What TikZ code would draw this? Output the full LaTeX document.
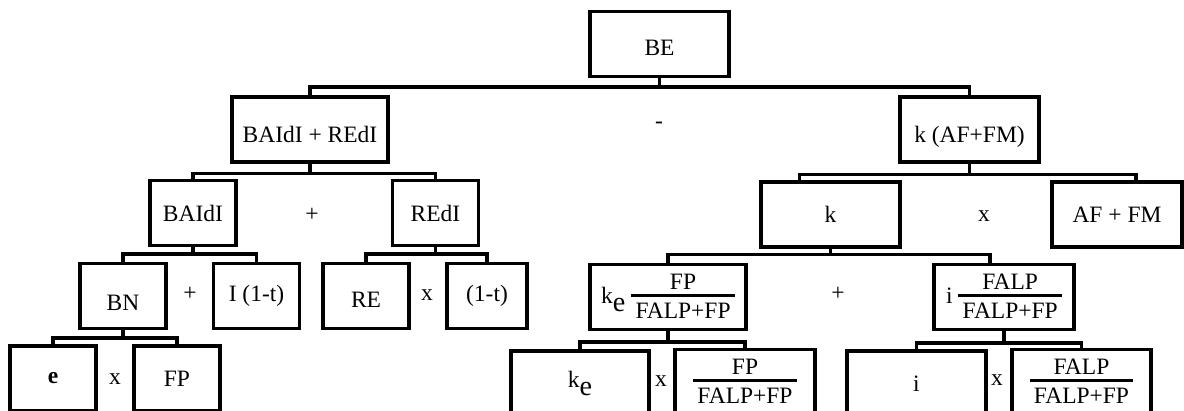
\documentclass[tikz,border=0pt]{standalone}
\usepackage{fontspec}
\setmainfont{Liberation Serif}

\newlength\pxu
\setlength\pxu{0.025cm}
\setlength\arrayrulewidth{1.9pt}
\newcommand\fr[2]{\begin{tabular}[c]{@{\hspace{3pt}}c@{\hspace{3pt}}}
    #1\\[-2.5pt]\hline\rule{0pt}{15.5pt}#2\\[-2pt]\end{tabular}}
\newcommand\ke{k\raisebox{-0.35em}{\fontsize{20}{20}\selectfont e}}

\begin{document}
\begin{tikzpicture}[
    x=0.025cm, y=-0.025cm,
    every node/.style={font=\fontsize{16.7}{20}\selectfont},
    box/.style={draw, line width=2.2pt, inner sep=0pt,
        minimum width=#1*\pxu, minimum height=65*\pxu},
    low/.style={text height=#1, text depth=0pt},
    wire/.style={line width=2.2pt}
]
\useasboundingbox (0,0) rectangle (1184,411);
\clip (0,0) rectangle (1184,411);

% Top
\node[box=139, low=17pt] (be) at (659.5,44) {BE};

% Level 1
\node[box=156, low=18pt] (sum) at (310,129.5) {BAIdI + REdI};
\node (minus) at (659,125) {-};
\node[box=139, low=18pt] (kaffm) at (969.5,129.5) {k (AF+FM)};

% Level 2
\node[box=86] (baidi) at (193,213) {BAIdI};
\node (plus1) at (312,215) {+};
\node[box=86] (redi) at (435.5,213) {REdI};
\node[box=139] (k) at (830.5,214.5) {k};
\node (times1) at (984,216) {x};
\node[box=130] (affm) at (1117,214.5) {AF + FM};

% Level 3
\node[box=86, low=21pt] (bn) at (123,296) {BN};
\node (plus2) at (190,294) {+};
\node[box=86] (i1t) at (256.5,296) {I (1-t)};
\node[box=86, low=17pt] (re) at (366,296) {RE};
\node (times2) at (427,295) {x};
\node[box=80] (onet) at (487,296) {(1-t)};
\node[box=156] (kefrac) at (668,297) {\ke~\fr{FP}{FALP+FP}};
\node (plus3) at (838,294) {+};
\node[box=140] (ifrac) at (1004,297) {i~\fr{FALP}{FALP+FP}};

% Bottom
\node[box=86, line width=3.4pt] (e) at (53,378.5) {\textbf{e}};
\node (times3) at (115,379) {x};
\node[box=86] (fp) at (177,378.5) {FP};
\node[box=138] (ke) at (580,383.5) {\ke};
\node (times4) at (661,381) {x};
\node[box=140] (fpfrac) at (745,382) {\fr{FP}{FALP+FP}};
\node[box=139] (i) at (916.5,383.5) {i};
\node (times5) at (997,380) {x};
\node[box=139] (falpfrac) at (1081.5,382) {\fr{FALP}{FALP+FP}};

% Edges
\path (be.south) ++(0,9) coordinate (be-b);
\draw[wire] (be.south) -- (be-b) (sum.north) |- (be-b) -| (kaffm.north);

\path (sum.south) ++(0,10) coordinate (sum-b);
\draw[wire] (sum.south) -- (sum-b) (baidi.north) |- (sum-b) -| (redi.north);

\path (kaffm.south) ++(0,11) coordinate (kaffm-b);
\draw[wire] (kaffm.south) -- (kaffm-b)
    ([xshift=-31*\pxu]k.north) |- (kaffm-b) -| ([xshift=19*\pxu]affm.north);

\path (baidi.south) ++(0,7) coordinate (baidi-b);
\draw[wire] (baidi.south) -- (baidi-b) (bn.north) |- (baidi-b) -| (i1t.north);

\path (redi.south) ++(0,7) coordinate (redi-b);
\draw[wire] (redi.south) -- (redi-b) (re.north) |- (redi-b) -| (onet.north);

\path (k.south) ++(0,6) coordinate (k-b);
\draw[wire] (k.south) -- (k-b)
    (kefrac.north) |- (k-b) -| ([xshift=-14*\pxu]ifrac.north);

\path (bn.south) ++(0,8) coordinate (bn-b);
\draw[wire] (bn.south) -- (bn-b) (e.north) |- (bn-b) -| (fp.north);

\path (kefrac.south) ++(0,11) coordinate (kefrac-b);
\draw[wire] (kefrac.south) -- (kefrac-b) (ke.north) |- (kefrac-b) -| (fpfrac.north);

\path (ifrac.south) ++(0,12) coordinate (ifrac-b);
\draw[wire] (ifrac.south) -- (ifrac-b) (i.north) |- (ifrac-b) -| (falpfrac.north);

\end{tikzpicture}
\end{document}
